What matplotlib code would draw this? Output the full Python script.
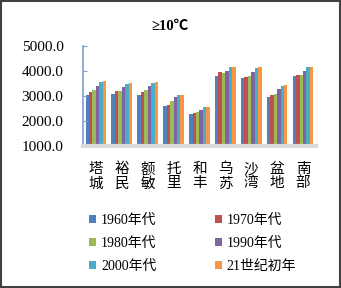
import matplotlib
matplotlib.use('Agg')
import matplotlib.pyplot as plt
import numpy as np
from matplotlib.patches import Rectangle

# station names and decade series (accumulated temperature >=10 C)
stations = ['塔城', '裕民', '额敏', '托里', '和丰', '乌苏', '沙湾', '盆地', '南部']
decades = ['1960年代', '1970年代', '1980年代', '1990年代', '2000年代', '21世纪初年']
v1960 = [3030, 3070, 3050, 2600, 2270, 3810, 3730, 2960, 3790]
v1970 = [3160, 3200, 3160, 2630, 2310, 3950, 3770, 3040, 3850]
v1980 = [3230, 3190, 3230, 2790, 2350, 3920, 3790, 3090, 3850]
v1990 = [3390, 3360, 3410, 2950, 2440, 4010, 3950, 3270, 3990]
v2000 = [3560, 3490, 3520, 3050, 2560, 4170, 4120, 3400, 4150]
v21 = [3600, 3520, 3570, 3050, 2550, 4170, 4160, 3430, 4160]
series = [v1960, v1970, v1980, v1990, v2000, v21]
colors = ['#4F81BD', '#C0504D', '#9BBB59', '#8064A2', '#4BACC6', '#F79646']
yticks = [1000, 2000, 3000, 4000, 5000]

serif = ['Liberation Serif', 'Noto Sans CJK SC', 'DejaVu Sans']
plt.rcParams['font.family'] = serif

fig = plt.figure(figsize=(3.41, 2.88), dpi=100)
ax = fig.add_axes([0.2434, 0.494, 0.683, 0.347])

x = np.arange(len(stations))
w = 0.133
for i, (vals, c) in enumerate(zip(series, colors)):
    ax.bar(x + (i - 2.5) * w, np.array(vals) - 1000, width=w, bottom=1000,
           color=c, label=decades[i], linewidth=0)

ax.set_xlim(-0.5, len(stations) - 0.5)
ax.set_ylim(1000, 5000)
ax.set_yticks(yticks)
ax.set_yticklabels(['%.1f' % t for t in yticks], fontsize=11,
                   family='Liberation Serif')
ax.set_xticks(x)
ax.set_xticklabels(['\n'.join(s) for s in stations], fontsize=10.5,
                   family='Noto Sans CJK SC', linespacing=1.0)
ax.tick_params(axis='x', length=0, pad=12)
ax.tick_params(axis='y', direction='in', length=3, color='#7BA0CD', pad=14)
for s in ['top', 'right']:
    ax.spines[s].set_visible(False)
ax.spines['left'].set_color('#7BA0CD')
ax.spines['left'].set_linewidth(1.2)
ax.spines['bottom'].set_color('#D9D9D9')
ax.spines['bottom'].set_linewidth(3)

fig.text(0.5, 0.908, '≥10℃', ha='center', va='center', fontsize=10.5,
         fontweight='bold', family=serif)

handles, labels = ax.get_legend_handles_labels()
order = [0, 2, 4, 1, 3, 5]
leg = fig.legend([handles[k] for k in order], [labels[k] for k in order],
                 ncol=2, loc='upper left', bbox_to_anchor=(0.262, 0.258),
                 frameon=False, fontsize=10, handlelength=0.5,
                 handleheight=0.5, handletextpad=0.35, columnspacing=4.2,
                 labelspacing=0.72, borderaxespad=0, borderpad=0)

fig.patches.append(Rectangle((0.004, 0.004), 0.992, 0.992, transform=fig.transFigure,
                             fill=False, edgecolor='#404040', linewidth=1.5))

fig.savefig('out.png', dpi=100)
